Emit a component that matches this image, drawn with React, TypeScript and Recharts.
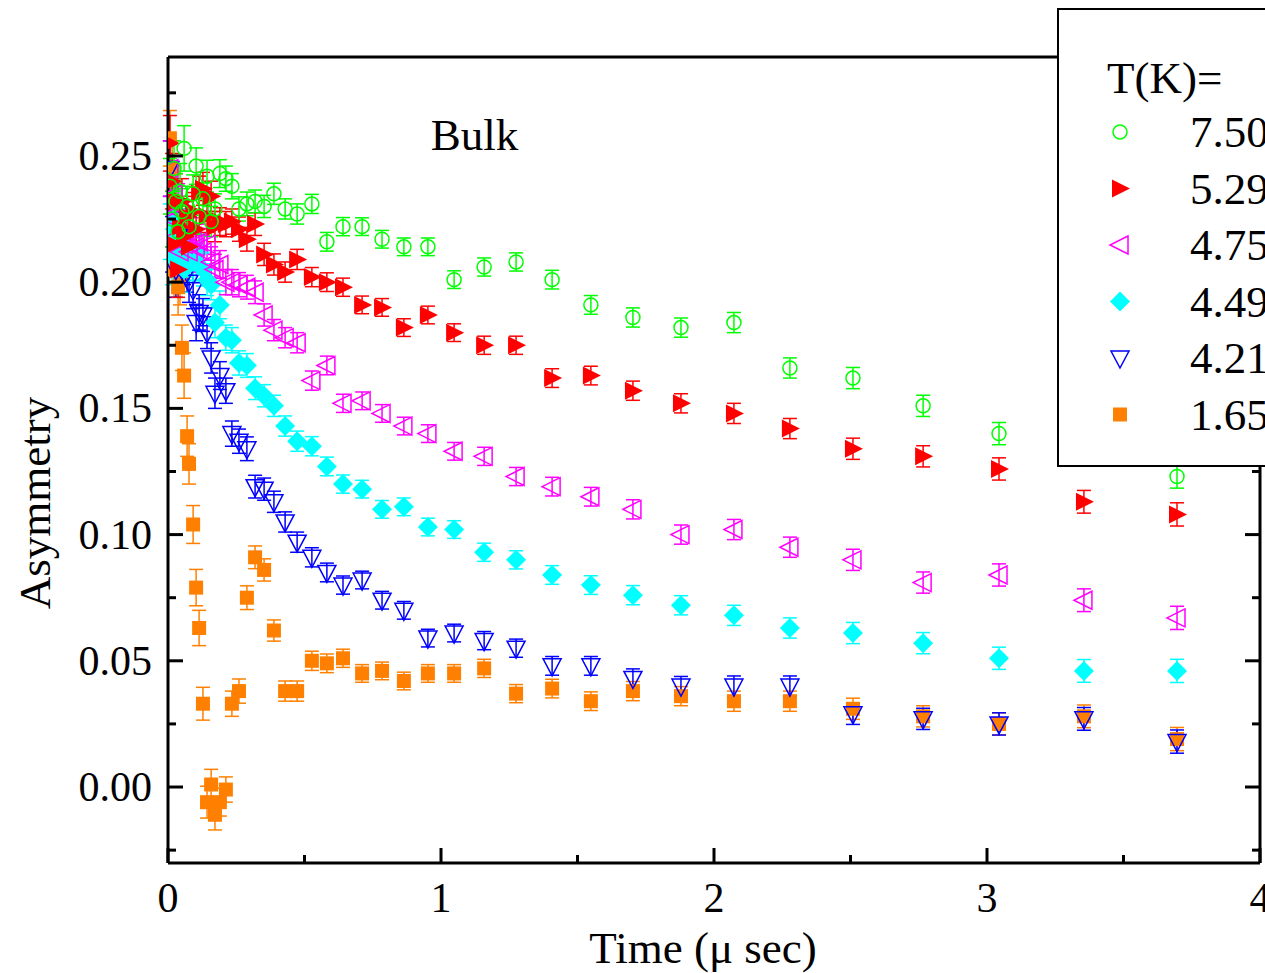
import React from "react";
import {
  ScatterChart,
  Scatter,
  XAxis,
  YAxis,
  ErrorBar,
  ReferenceDot,
  Legend,
} from "recharts";

const FONT = '"Liberation Serif", "Times New Roman", serif';

// time bins (μs)
const times = [
  0.007, 0.015, 0.022, 0.029, 0.037, 0.044, 0.051, 0.059, 0.07, 0.077, 0.092,
  0.103, 0.114, 0.128, 0.143, 0.158, 0.172, 0.19, 0.212, 0.234, 0.26, 0.289,
  0.319, 0.352, 0.388, 0.429, 0.473, 0.527, 0.582, 0.641, 0.711, 0.784, 0.864,
  0.952, 1.048, 1.158, 1.275, 1.407, 1.549, 1.703, 1.879, 2.073, 2.278, 2.509,
  2.766, 3.044, 3.355, 3.696,
];

// error bar half-heights per bin
const errs = [
  0.011, 0.011, 0.011, 0.011, 0.011, 0.011, 0.009, 0.009, 0.008, 0.008, 0.0075,
  0.0072, 0.007, 0.0065, 0.0063, 0.006, 0.006, 0.0055, 0.005, 0.005, 0.0048,
  0.0047, 0.0045, 0.0044, 0.0042, 0.004, 0.004, 0.0038, 0.0037, 0.0036, 0.0035,
  0.0035, 0.0035, 0.0035, 0.0035, 0.0036, 0.0036, 0.0037, 0.0037, 0.0038,
  0.0038, 0.004, 0.004, 0.0042, 0.0042, 0.0044, 0.0045, 0.0046,
];

const t750 = [
  0.238, 0.225, 0.245, 0.232, 0.22, 0.236, 0.228, 0.253, 0.23, 0.222, 0.235,
  0.246, 0.226, 0.233, 0.242, 0.224, 0.229, 0.243, 0.241, 0.238, 0.229, 0.231,
  0.232, 0.23, 0.235, 0.229, 0.227, 0.231, 0.216, 0.222, 0.222, 0.217, 0.214,
  0.214, 0.201, 0.206, 0.208, 0.201, 0.191, 0.186, 0.182, 0.184, 0.166, 0.162,
  0.151, 0.14, 0.138, 0.123,
];
const t529 = [
  0.255, 0.24, 0.215, 0.232, 0.205, 0.222, 0.232, 0.218, 0.226, 0.214, 0.228,
  0.221, 0.235, 0.237, 0.226, 0.234, 0.222, 0.224, 0.223, 0.224, 0.221, 0.217,
  0.223, 0.211, 0.207, 0.204, 0.209, 0.202, 0.2, 0.198, 0.191, 0.19, 0.182,
  0.187, 0.18, 0.175, 0.175, 0.162, 0.163, 0.157, 0.152, 0.148, 0.142, 0.134,
  0.131, 0.126, 0.113, 0.108,
];
const t475 = [
  0.245, 0.225, 0.235, 0.218, 0.228, 0.212, 0.222, 0.215, 0.22, 0.212, 0.218,
  0.214, 0.216, 0.212, 0.215, 0.208, 0.205, 0.207, 0.2, 0.2, 0.199, 0.198,
  0.196, 0.187, 0.181, 0.178, 0.176, 0.161, 0.167, 0.152, 0.153, 0.148, 0.143,
  0.14, 0.133, 0.131, 0.123, 0.119, 0.115, 0.11, 0.1, 0.102, 0.095, 0.09, 0.081,
  0.084, 0.074, 0.067,
];
const t449 = [
  0.22, 0.21, 0.225, 0.215, 0.208, 0.218, 0.212, 0.205, 0.21, 0.213, 0.208,
  0.208, 0.212, 0.205, 0.201, 0.199, 0.184, 0.191, 0.178, 0.177, 0.168, 0.167,
  0.158, 0.155, 0.151, 0.143, 0.137, 0.135, 0.127, 0.12, 0.118, 0.11, 0.111,
  0.103, 0.102, 0.093, 0.09, 0.084, 0.08, 0.076, 0.072, 0.068, 0.063, 0.061,
  0.057, 0.051, 0.046, 0.046,
];
const t421 = [
  0.245, 0.215, 0.225, 0.205, 0.218, 0.21, 0.205, 0.208, 0.204, 0.2, 0.197,
  0.184, 0.188, 0.187, 0.18, 0.17, 0.156, 0.163, 0.157, 0.14, 0.137, 0.134,
  0.119, 0.118, 0.113, 0.105, 0.097, 0.091, 0.085, 0.08, 0.082, 0.074, 0.07,
  0.059, 0.061, 0.058, 0.055, 0.048, 0.048, 0.043, 0.04, 0.04, 0.04, 0.029,
  0.027, 0.025, 0.027, 0.018,
];
const t165 = [
  0.257, 0.245, 0.205, 0.215, 0.198, 0.202, 0.174, 0.163, 0.139, 0.128, 0.104,
  0.079, 0.063, 0.033, -0.006, 0.001, -0.011, -0.006, -0.001, 0.033, 0.038,
  0.075, 0.091, 0.086, 0.062, 0.038, 0.038, 0.05, 0.049, 0.051, 0.045, 0.046,
  0.042, 0.045, 0.045, 0.047, 0.037, 0.039, 0.034, 0.038, 0.036, 0.034, 0.034,
  0.031, 0.028, 0.025, 0.028, 0.019,
];

const SERIES = [
  { name: "7.50", values: t750, color: "#00ff00", shape: "circle" },
  { name: "5.29", values: t529, color: "#ff0000", shape: "right" },
  { name: "4.75", values: t475, color: "#ff00ff", shape: "left" },
  { name: "4.49", values: t449, color: "#00ffff", shape: "diamond" },
  { name: "4.21", values: t421, color: "#0000ff", shape: "down" },
  { name: "1.65", values: t165, color: "#ff8000", shape: "square" },
];

const X_TICKS = [0, 0.5, 1, 1.5, 2, 2.5, 3, 3.5, 4];
const Y_TICKS = [
  -0.025, 0, 0.025, 0.05, 0.075, 0.1, 0.125, 0.15, 0.175, 0.2, 0.225, 0.25,
  0.275,
];

const MAJOR = 15;
const MINOR = 8;

function marker(kind: string, cx: number, cy: number, color: string) {
  switch (kind) {
    case "circle":
      return <circle cx={cx} cy={cy} r={7} fill="none" stroke={color} strokeWidth={1.5} />;
    case "right":
      return (
        <polygon
          points={`${cx - 8},${cy - 9} ${cx + 10},${cy} ${cx - 8},${cy + 9}`}
          fill={color}
        />
      );
    case "left":
      return (
        <polygon
          points={`${cx + 8},${cy - 9} ${cx - 10},${cy} ${cx + 8},${cy + 9}`}
          fill="none"
          stroke={color}
          strokeWidth={1.5}
        />
      );
    case "diamond":
      return (
        <polygon
          points={`${cx},${cy - 10} ${cx + 10},${cy} ${cx},${cy + 10} ${cx - 10},${cy}`}
          fill={color}
        />
      );
    case "down":
      return (
        <polygon
          points={`${cx - 9},${cy - 7} ${cx + 9},${cy - 7} ${cx},${cy + 10}`}
          fill="none"
          stroke={color}
          strokeWidth={1.5}
        />
      );
    default:
      return <rect x={cx - 7} y={cy - 7} width={14} height={14} fill={color} />;
  }
}

const isMajorY = (v: number) => Math.abs(v * 20 - Math.round(v * 20)) < 1e-6;

function LeftTick({ x, y, payload }: any) {
  const major = isMajorY(payload.value);
  return (
    <g>
      <line x1={x} x2={x + (major ? MAJOR : MINOR)} y1={y} y2={y} stroke="#000" strokeWidth={3} />
      {major && (
        <text x={x - 16} y={y + 14} textAnchor="end" fontSize={42} fontFamily={FONT} fill="#000">
          {payload.value.toFixed(2)}
        </text>
      )}
    </g>
  );
}

function RightTick({ x, y, payload }: any) {
  const major = isMajorY(payload.value);
  return <line x1={x} x2={x - (major ? MAJOR : MINOR)} y1={y} y2={y} stroke="#000" strokeWidth={3} />;
}

function BottomTick({ x, y, payload }: any) {
  const major = Number.isInteger(payload.value);
  return (
    <g>
      <line x1={x} x2={x} y1={y} y2={y - (major ? MAJOR : MINOR)} stroke="#000" strokeWidth={3} />
      {major && (
        <text x={x} y={y + 49} textAnchor="middle" fontSize={42} fontFamily={FONT} fill="#000">
          {payload.value}
        </text>
      )}
    </g>
  );
}

function TopTick({ x, y, payload }: any) {
  const major = Number.isInteger(payload.value);
  return <line x1={x} x2={x} y1={y} y2={y + (major ? MAJOR : MINOR)} stroke="#000" strokeWidth={3} />;
}

function LegendBox() {
  return (
    <div
      style={{
        width: 220,
        height: 459,
        boxSizing: "border-box",
        border: "2px solid #000",
        background: "#fff",
      }}
    >
      <svg width={216} height={455} style={{ display: "block" }}>
        <text x={48} y={83} fontSize={45} fontFamily={FONT} fill="#000">
          T(K)=
        </text>
        {SERIES.map((s, i) => {
          const cy = 122 + i * 56.5;
          return (
            <g key={s.name}>
              {marker(s.shape, 61, cy, s.color)}
              <text x={131} y={cy + 15} fontSize={45} fontFamily={FONT} fill="#000">
                {s.name}
              </text>
            </g>
          );
        })}
      </svg>
    </div>
  );
}

const axisLine = { stroke: "#000", strokeWidth: 3 };

export default function App() {
  const drawn = [...SERIES].reverse();
  return (
    <div
      style={{
        position: "absolute",
        left: 0,
        top: 0,
        width: 1265,
        height: 973,
        overflow: "hidden",
        background: "#fff",
      }}
    >
      <ScatterChart
        width={1265}
        height={973}
        margin={{ top: 56, right: 4, bottom: 0, left: 0 }}
      >
        <XAxis
          xAxisId={0}
          type="number"
          dataKey="t"
          domain={[0, 4]}
          ticks={X_TICKS}
          interval={0}
          allowDataOverflow
          height={110}
          axisLine={axisLine}
          tickLine={false}
          tickSize={0}
          tickMargin={0}
          tick={(p: any) => <BottomTick {...p} />}
          label={{
            content: ({ viewBox }: any) => (
              <text
                x={viewBox.x + viewBox.width / 2 - 11}
                y={viewBox.y + 100}
                textAnchor="middle"
                fontSize={45}
                fontFamily={FONT}
                fill="#000"
              >
                Time (μ sec)
              </text>
            ),
          }}
        />
        <XAxis
          xAxisId="top"
          orientation="top"
          type="number"
          domain={[0, 4]}
          ticks={X_TICKS}
          interval={0}
          allowDataOverflow
          height={1}
          axisLine={axisLine}
          tickLine={false}
          tickSize={0}
          tickMargin={0}
          tick={(p: any) => <TopTick {...p} />}
        />
        <YAxis
          yAxisId={0}
          type="number"
          dataKey="a"
          domain={[-0.0301, 0.2892]}
          ticks={Y_TICKS}
          interval={0}
          allowDataOverflow
          width={168}
          axisLine={axisLine}
          tickLine={false}
          tickSize={0}
          tickMargin={0}
          tick={(p: any) => <LeftTick {...p} />}
          label={{
            content: ({ viewBox }: any) => {
              const cx = viewBox.x + 50;
              const cy = viewBox.y + viewBox.height / 2 + 43;
              return (
                <text
                  x={cx}
                  y={cy}
                  transform={`rotate(-90, ${cx}, ${cy})`}
                  textAnchor="middle"
                  fontSize={45}
                  fontFamily={FONT}
                  fill="#000"
                >
                  Asymmetry
                </text>
              );
            },
          }}
        />
        <YAxis
          yAxisId="right"
          orientation="right"
          type="number"
          domain={[-0.0301, 0.2892]}
          ticks={Y_TICKS}
          interval={0}
          allowDataOverflow
          width={1}
          axisLine={axisLine}
          tickLine={false}
          tickSize={0}
          tickMargin={0}
          tick={(p: any) => <RightTick {...p} />}
        />
        {drawn.map((s) => (
          <Scatter
            key={s.name}
            name={s.name}
            data={times.map((t, i) => ({ t, a: s.values[i], e: errs[i] }))}
            fill={s.color}
            isAnimationActive={false}
            shape={(p: any) => marker(s.shape, p.cx, p.cy, s.color)}
          >
            <ErrorBar dataKey="e" direction="y" width={7} stroke={s.color} strokeWidth={1.5} />
          </Scatter>
        ))}
        <ReferenceDot
          x={1.123}
          y={0.2585}
          r={0}
          stroke="none"
          fill="none"
          label={{
            value: "Bulk",
            position: "center",
            fontSize: 45,
            fontFamily: FONT,
            fill: "#000",
          }}
        />
        <Legend
          layout="horizontal"
          verticalAlign="middle"
          align="center"
          wrapperStyle={{
            position: "absolute",
            left: 1057,
            top: 8,
            width: 220,
            height: 459,
            margin: 0,
            padding: 0,
          }}
          content={() => <LegendBox />}
        />
      </ScatterChart>
    </div>
  );
}
